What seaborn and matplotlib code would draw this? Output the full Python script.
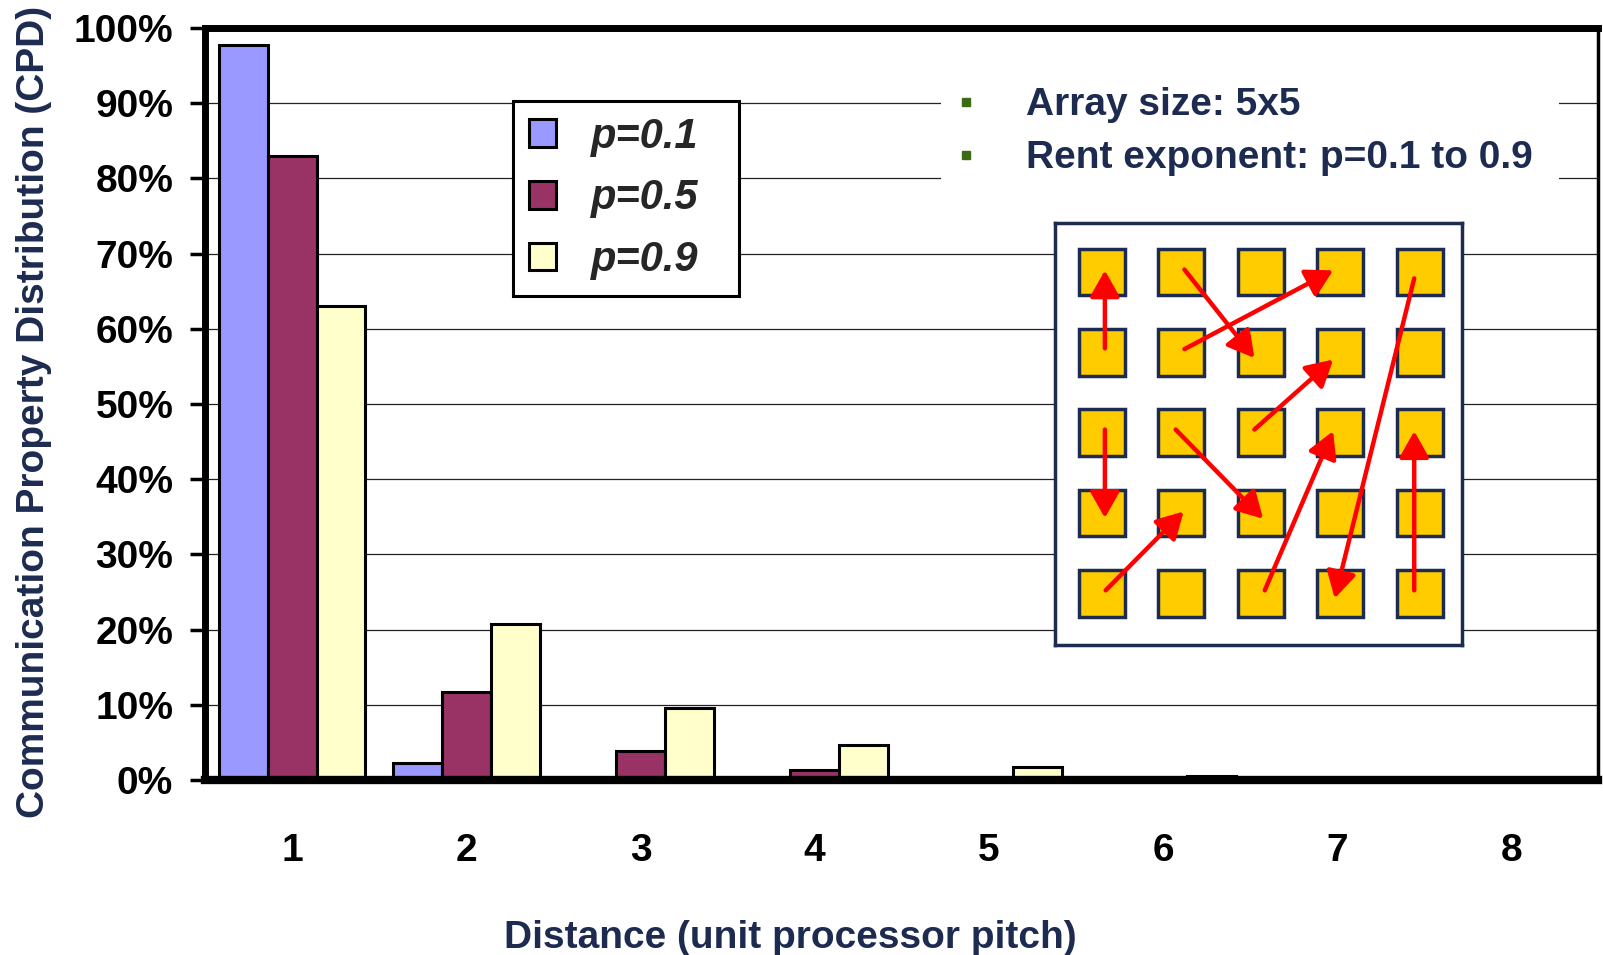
import numpy as np
import pandas as pd
import matplotlib
matplotlib.use("Agg")
import matplotlib.pyplot as plt
from matplotlib.patches import Rectangle
from matplotlib.ticker import FixedLocator
import seaborn as sns

# ---- data -------------------------------------------------------------
distances = ["1", "2", "3", "4", "5", "6", "7", "8"]
series_labels = ["p=0.1", "p=0.5", "p=0.9"]
cpd_p01 = [97.8, 2.3, 0.2, 0.0, 0.0, 0.0, 0.0, 0.0]
cpd_p05 = [83.0, 11.7, 3.8, 1.4, 0.2, 0.0, 0.0, 0.0]
cpd_p09 = [63.0, 20.8, 9.6, 4.6, 1.8, 0.5, 0.0, 0.0]
y_ticks = [0, 10, 20, 30, 40, 50, 60, 70, 80, 90, 100]
y_tick_labels = [f"{v}%" for v in y_ticks]
bar_colors = ["#9999FF", "#993366", "#FFFFCC"]

notes = ["Array size: 5x5", "Rent exponent: p=0.1 to 0.9"]

# 5x5 processor array sketch: communication arrows in grid units (col, row)
grid_n = 5
arrows = [
    ((0.04, 0.95), (0.04, -0.02)),
    ((1.04, -0.03), (1.92, 1.07)),
    ((1.04, 0.96), (2.91, -0.02)),
    ((3.93, 0.08), (2.93, 4.06)),
    ((1.92, 1.96), (2.91, 1.09)),
    ((0.04, 1.96), (0.04, 3.06)),
    ((0.93, 1.96), (2.03, 3.07)),
    ((0.05, 3.96), (1.03, 2.98)),
    ((2.05, 3.96), (2.91, 1.98)),
    ((3.93, 3.96), (3.93, 1.98)),
]

navy = "#1C2B4F"
bullet_green = "#3B6B12"

df = pd.DataFrame({
    "distance": distances * 3,
    "cpd": cpd_p01 + cpd_p05 + cpd_p09,
    "series": [s for s in series_labels for _ in distances],
})

# ---- style ------------------------------------------------------------
sns.set_theme(style="white")
plt.rcParams["font.family"] = ["Liberation Sans", "DejaVu Sans"]
plt.rcParams["font.weight"] = "bold"

fig = plt.figure(figsize=(16.03, 9.55), dpi=100)
ax = fig.add_axes([0.128, 0.1832, 0.869, 0.7875])

sns.barplot(data=df, x="distance", y="cpd", hue="series",
            palette=bar_colors, width=0.84, gap=0, saturation=1,
            edgecolor="black", linewidth=2.2, errorbar=None, ax=ax)

ax.set_xlim(-0.5, len(distances) - 0.5)
ax.set_ylim(0, 100)
ax.set_yticks(y_ticks)
ax.set_yticklabels(y_tick_labels, fontsize=28, fontweight="bold", color="black")
ax.set_xticks(range(len(distances)))
ax.set_xticklabels(distances, fontsize=28, fontweight="bold", color="black")
ax.xaxis.set_minor_locator(FixedLocator(np.arange(-0.5, len(distances), 1.0)))
ax.tick_params(axis="x", which="major", length=0, pad=38)
ax.tick_params(axis="x", which="minor", direction="out", length=11, width=3, color="black")
ax.tick_params(axis="y", direction="out", length=11, width=2.5, color="black", pad=12, left=True)

ax.yaxis.grid(True, color="#222222", linewidth=0.9)
ax.set_axisbelow(True)

for side, lw in (("left", 5), ("bottom", 6), ("top", 5), ("right", 2.5)):
    ax.spines[side].set_visible(True)
    ax.spines[side].set_color("black")
    ax.spines[side].set_linewidth(lw)

ax.set_xlabel("Distance (unit processor pitch)", fontsize=28, fontweight="bold", color=navy)
ax.set_ylabel("Communication Property Distribution (CPD)", fontsize=28, fontweight="bold", color=navy)
ax.xaxis.set_label_coords(0.42, -0.21)
ax.xaxis.label.set_va("center")
ax.yaxis.set_label_coords(-0.123, 0.49)
ax.yaxis.label.set_va("center")

# legend
leg = ax.legend(loc="upper left", bbox_to_anchor=(0.221, 0.893, 0.162, 0.01),
                mode="expand", frameon=True,
                fancybox=False, framealpha=1, edgecolor="black",
                prop={"size": 30, "weight": "bold", "style": "italic"},
                handlelength=0.65, handleheight=0.65, handletextpad=0.85,
                borderpad=0.38, labelspacing=0.52, borderaxespad=0)
leg.get_frame().set_linewidth(2.2)
for h in leg.legend_handles:
    h.set_edgecolor("black")
    h.set_linewidth(2.2)

# bullet notes on a white panel over the grid
ax.add_patch(Rectangle((0.528, 0.785), 0.444, 0.146, transform=ax.transAxes,
                       facecolor="white", edgecolor="none", zorder=0.8))
for note, yy in zip(notes, (0.898, 0.827)):
    ax.plot([0.546], [yy + 0.004], marker="s", markersize=6, color=bullet_green,
            transform=ax.transAxes, zorder=3, clip_on=False)
    ax.text(0.589, yy, note, transform=ax.transAxes, fontsize=28,
            fontweight="bold", color=navy, va="center", ha="left", zorder=3)

# processor array sketch
ins = fig.add_axes([0.658, 0.3246, 0.254, 0.442])
ins.set_facecolor("white")
ins.set_xlim(-0.59, 4.53)
ins.set_ylim(4.64, -0.61)
ins.set_xticks([])
ins.set_yticks([])
for sp in ins.spines.values():
    sp.set_visible(True)
    sp.set_color(navy)
    sp.set_linewidth(2.5)
for r in range(grid_n):
    for c in range(grid_n):
        ins.add_patch(Rectangle((c - 0.29, r - 0.29), 0.58, 0.58,
                                facecolor="#FFCC00", edgecolor=navy, linewidth=2.5))
for (x0, y0), (x1, y1) in arrows:
    ins.annotate("", xy=(x1, y1), xytext=(x0, y0),
                 arrowprops=dict(arrowstyle="-|>,head_length=0.8,head_width=0.45",
                                 color="red", lw=3.2, mutation_scale=20,
                                 shrinkA=0, shrinkB=0))

fig.savefig("out.png", dpi=100)
